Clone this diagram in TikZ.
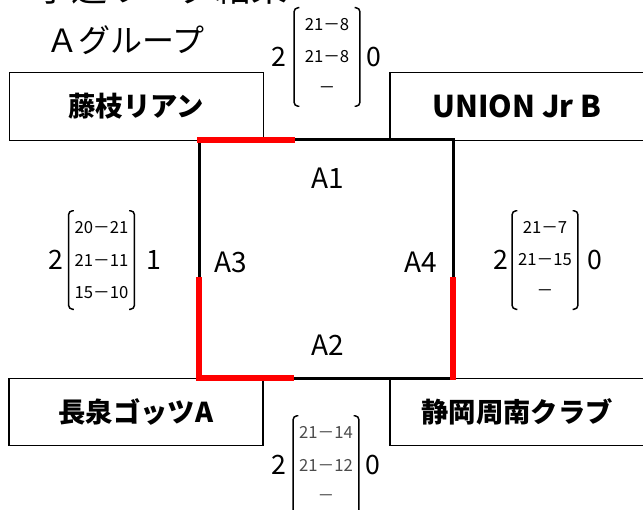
\documentclass[tikz,border=0pt]{standalone}
\usepackage{fontspec}
\setmainfont{Noto Sans CJK JP}
\usetikzlibrary{matrix, positioning}
\tikzset{team/.style={draw, line width=0.8pt, minimum width=190.5pt, minimum height=50.5pt,
    inner sep=0pt, font=\fontsize{20.5}{24}\selectfont\bfseries},
  score/.style={matrix of nodes, inner sep=0pt,
    nodes={minimum width=49pt, minimum height=24.5pt, inner sep=0pt, font=\fontsize{12.5}{14}\selectfont}},
  games/.style={inner sep=0pt, font=\fontsize{20}{22}\selectfont},
  match/.style={inner sep=0pt, font=\fontsize{21}{24}\selectfont},
  court/.style={line width=2.25pt},
  won/.style={red, line width=4.5pt},
  bracket/.style={line width=1.1pt, rounded corners=3pt}}

\begin{document}
\begin{tikzpicture}[x=0.75pt, y=-0.75pt]
    \useasboundingbox (0,0) rectangle (643,510);

    \node[anchor=base west, inner sep=0pt, font=\fontsize{27}{30}\selectfont] (title) at (35,1.5) {予選リーグ結果};
    \node[anchor=west, inner sep=0pt, font=\fontsize{24}{28}\selectfont] (group) at (46,40) {Ａグループ};

    \node[team] (fujieda) at (136.25,106.5) {藤枝リアン};
    \node[team] (union) at (517,106.5) {\fontsize{22.5}{26}\selectfont UNION Jr B};
    \node[team] (nagaizumi) at (136,412) {長泉ゴッツA};
    \node[team] (shizuoka) at (517,412) {静岡周南クラブ};

    \coordinate (nw) at (199,140);
    \coordinate (ne) at (453,140);
    \coordinate (sw) at (199,378);
    \coordinate (se) at (453,378);
    \coordinate (nred) at (295,140);
    \coordinate (sred) at (294,378);
    \coordinate (wred) at (199,277);
    \coordinate (ered) at (453,277);

    \draw[court] (nw) -- (ne) -- (se) -- (sw) -- cycle;
    \draw[won] ([xshift=-1.2pt]nw) -- (nred);
    \draw[won] (wred) -- (sw) -- (sred);
    \draw[won] (ered) -- ([yshift=-1.5pt]se);

    \node[match] (a1) at (328,178) {A1};
    \node[match] (a2) at (328,345) {A2};
    \node[match] (a3) at (231,262) {A3};
    \node[match] (a4) at (421,262) {A4};

    \matrix (sctop) [score] at (327,57) {21－8 \\ 21－8 \\ － \\};
    \matrix (scleft) [score] at (101.5,260) {20－21 \\ 21－11 \\ 15－10 \\};
    \matrix (scright) [score] at (545,260) {21－7 \\ 21－15 \\ － \\};
    \matrix (scbottom) [score, nodes={text=black!70}] at (326,465) {21－14 \\ 21－12 \\ － \\};

    \node[games, left=6pt of sctop] (sctop-w) {2};
    \node[games, right=5pt of sctop] (sctop-e) {0};
    \node[games, left=4pt of scleft] (scleft-w) {2};
    \node[games, right=9pt of scleft] (scleft-e) {1};
    \node[games, left=3pt of scright] (scright-w) {2};
    \node[games, right=7pt of scright] (scright-e) {0};
    \node[games, left=5pt of scbottom] (scbottom-w) {2};
    \node[games, right=5pt of scbottom] (scbottom-e) {0};

    \draw[bracket] ([xshift=4pt]sctop.north west) -- (sctop.north west) -- (sctop.south west) -- ([xshift=4pt]sctop.south west);
    \draw[bracket] ([xshift=-4pt]sctop.north east) -- (sctop.north east) -- (sctop.south east) -- ([xshift=-4pt]sctop.south east);
    \draw[bracket] ([xshift=4pt]scleft.north west) -- (scleft.north west) -- (scleft.south west) -- ([xshift=4pt]scleft.south west);
    \draw[bracket] ([xshift=-4pt]scleft.north east) -- (scleft.north east) -- (scleft.south east) -- ([xshift=-4pt]scleft.south east);
    \draw[bracket] ([xshift=4pt]scright.north west) -- (scright.north west) -- (scright.south west) -- ([xshift=4pt]scright.south west);
    \draw[bracket] ([xshift=-4pt]scright.north east) -- (scright.north east) -- (scright.south east) -- ([xshift=-4pt]scright.south east);
    \draw[bracket] ([xshift=4pt]scbottom.north west) -- (scbottom.north west) -- (scbottom.south west) -- ([xshift=4pt]scbottom.south west);
    \draw[bracket] ([xshift=-4pt]scbottom.north east) -- (scbottom.north east) -- (scbottom.south east) -- ([xshift=-4pt]scbottom.south east);
\end{tikzpicture}
\end{document}
